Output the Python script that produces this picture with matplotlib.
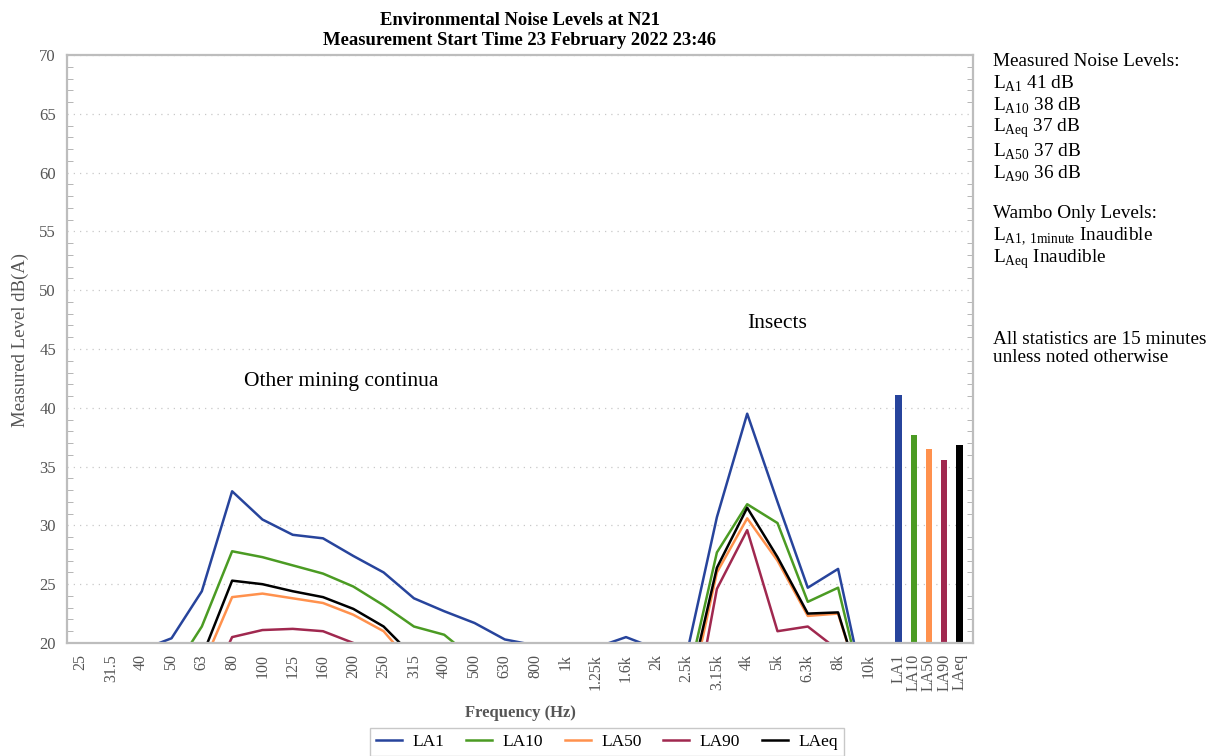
import numpy as np
import matplotlib
matplotlib.use('Agg')
import matplotlib.pyplot as plt
from matplotlib.ticker import MultipleLocator

plt.rcParams['font.family'] = ['Liberation Serif', 'DejaVu Serif']
plt.rcParams['mathtext.fontset'] = 'custom'
plt.rcParams['mathtext.rm'] = 'Liberation Serif'

# 1/3 octave band levels, dB(A)
freqs = ['25', '31.5', '40', '50', '63', '80', '100', '125', '160', '200', '250',
         '315', '400', '500', '630', '800', '1k', '1.25k', '1.6k', '2k', '2.5k',
         '3.15k', '4k', '5k', '6.3k', '8k', '10k']
la1 = [19.0, 19.0, 19.4, 20.4, 24.4, 32.9, 30.5, 29.2, 28.9, 27.4, 26.0,
       23.8, 22.7, 21.7, 20.3, 19.8, 19.8, 19.6, 20.5, 19.5, 19.0,
       30.7, 39.5, 32.0, 24.7, 26.3, 14.4]
la10 = [15.0, 15.0, 15.0, 17.4, 21.4, 27.8, 27.3, 26.6, 25.9, 24.8, 23.2,
        21.4, 20.7, 18.6, 16.0, 15.0, 15.0, 15.0, 15.0, 15.0, 16.4,
        27.7, 31.8, 30.2, 23.5, 24.7, 14.0]
la50 = [14.0, 14.0, 14.0, 14.0, 17.9, 23.9, 24.2, 23.8, 23.4, 22.4, 21.0,
        18.0, 15.0, 14.0, 14.0, 14.0, 14.0, 14.0, 14.0, 14.0, 14.2,
        26.0, 30.6, 27.0, 22.3, 22.5, 14.2]
la90 = [10.0, 10.0, 10.0, 10.0, 15.0, 20.5, 21.1, 21.2, 21.0, 20.0, 17.0,
        14.0, 12.0, 10.0, 10.0, 10.0, 10.0, 10.0, 10.0, 10.0, 10.7,
        24.6, 29.6, 21.0, 21.4, 19.4, 10.0]
laeq = [14.0, 14.0, 14.0, 14.0, 18.8, 25.3, 25.0, 24.4, 23.9, 22.9, 21.4,
        18.8, 15.0, 14.0, 14.0, 14.0, 14.0, 14.0, 14.0, 14.0, 15.2,
        26.4, 31.5, 27.3, 22.5, 22.6, 14.2]

# overall levels
stat_names = ['LA1', 'LA10', 'LA50', 'LA90', 'LAeq']
stat_values = [41.1, 37.7, 36.5, 35.6, 36.8]

colors = ['#27449c', '#4b9b23', '#ff914d', '#a0284f', '#000000']
grey = '#555555'

fig = plt.figure(figsize=(12.16, 7.56), dpi=100)
ax = fig.add_axes([0.0551, 0.1495, 0.745, 0.7777])

x = np.arange(len(freqs))
series = [la1, la10, la50, la90, laeq]
for vals, name, c in zip(series, stat_names, colors):
    ax.plot(x, vals, color=c, linewidth=1.8, label=name)

bar_x = len(freqs) + 0.5 * np.arange(len(stat_names))
ax.bar(bar_x, stat_values, width=0.22, color=colors, bottom=0)

ax.set_ylim(20, 70)
ax.set_xlim(-0.45, 29.45)
ax.set_xticks(list(x) + list(bar_x))
ax.set_xticklabels(freqs + stat_names, rotation=90, fontsize=11.5, color=grey)
ax.set_xticks(np.arange(0, 30), minor=True)
ax.yaxis.set_major_locator(MultipleLocator(5))
ax.yaxis.set_minor_locator(MultipleLocator(1))
ax.tick_params(axis='x', which='both', length=0, pad=8)
ax.tick_params(axis='y', which='major', labelsize=12, labelcolor=grey,
               length=0, pad=8)
ax.tick_params(axis='y', which='minor', direction='in', length=4,
               color='#aaaaaa', right=True, left=True)

ax.grid(True, axis='x', which='minor', linestyle=(0, (1, 4)), color='#c8c8c8', linewidth=0.9)
ax.grid(True, axis='y', which='major', linestyle=(0, (1, 4)), color='#c8c8c8', linewidth=0.9)
ax.set_axisbelow(True)
for sp in ax.spines.values():
    sp.set_color('#bdbdbd')
    sp.set_linewidth(1.6)

ax.set_xlabel('Frequency (Hz)', fontsize=12, fontweight='bold', color=grey, labelpad=10)
ax.set_ylabel('Measured Level dB(A)', fontsize=13.5, color=grey, labelpad=8)
ax.yaxis.set_label_coords(-0.042, 0.515)
ax.set_title('Environmental Noise Levels at N21\nMeasurement Start Time 23 February 2022 23:46',
             fontsize=13.4, fontweight='bold', linespacing=1.25, pad=7)

ax.text(5.38, 42.2, 'Other mining continua', fontsize=15.5, va='center', ha='left')
ax.text(22.0, 47.2, 'Insects', fontsize=15.5, va='center', ha='left')

fig.legend(loc='lower center', bbox_to_anchor=(0.499, -0.012), ncol=5, fontsize=12.5,
           frameon=True, edgecolor='#bbbbbb', fancybox=False, handlelength=1.5,
           handletextpad=0.6, columnspacing=1.25, borderpad=0.35)

# summary text on the right
tx = 993 / 1216
lines = [
    (62, 'Measured Noise Levels:'),
    (84, r'L$_{\mathregular{A1}}$ 41 dB'),
    (106, r'L$_{\mathregular{A10}}$ 38 dB'),
    (128, r'L$_{\mathregular{Aeq}}$ 37 dB'),
    (152, r'L$_{\mathregular{A50}}$ 37 dB'),
    (174, r'L$_{\mathregular{A90}}$ 36 dB'),
    (214, 'Wambo Only Levels:'),
    (236, r'L$_{\mathregular{A1,\,1minute}}$ Inaudible'),
    (259, r'L$_{\mathregular{Aeq}}$ Inaudible'),
    (340, 'All statistics are 15 minutes'),
    (358, 'unless noted otherwise'),
]
for ypix, s in lines:
    fig.text(tx, 1 - ypix / 756, s, fontsize=13.9, va='center', ha='left')

fig.savefig('out.png', dpi=100)
